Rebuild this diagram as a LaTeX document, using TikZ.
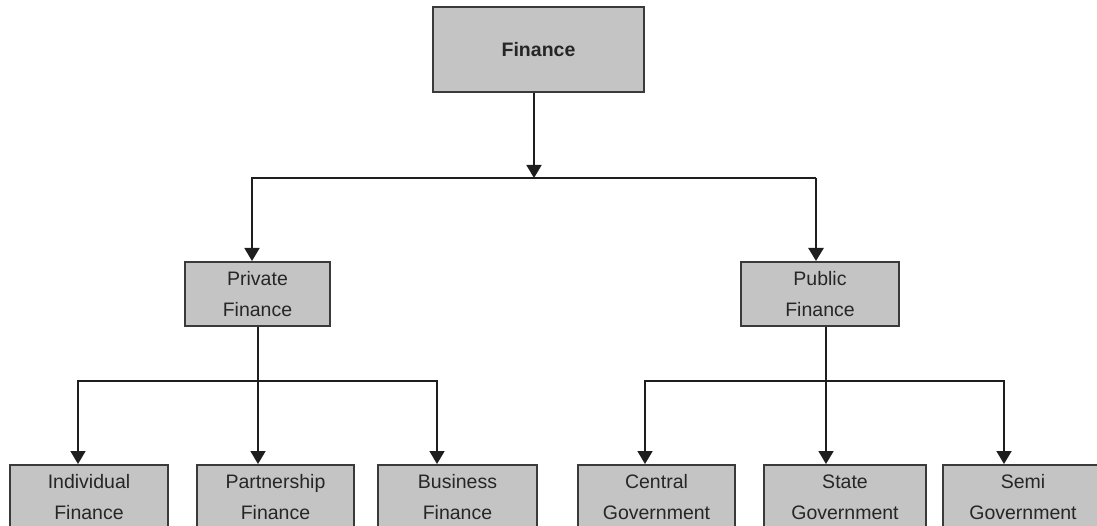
\documentclass[tikz,border=0pt]{standalone}
\usepackage{fontspec}
\setmainfont{Liberation Sans}
\usetikzlibrary{arrows.meta}
\definecolor{boxfill}{HTML}{C4C4C4}
\definecolor{boxline}{HTML}{3A3A3A}
\definecolor{linec}{HTML}{1E1E1E}
\begin{document}
\begin{tikzpicture}[x=1pt,y=-1pt,
  box/.style={draw=boxline,line width=2pt,fill=boxfill,inner sep=0pt,
    font=\fontsize{19.5}{31}\selectfont,align=center,text=black!85},
  conn/.style={draw=linec,line width=1.8pt},
  arr/.style={conn,-{Triangle[width=15pt,length=13pt]}}]
\useasboundingbox (0,0) rectangle (1097,526);
\clip (0,0) rectangle (1097,526);

% boxes
\node[box,font=\fontsize{19.5}{31}\selectfont\bfseries,minimum width=211pt,minimum height=85pt] (fin) at (538.5,49.5) {Finance};
\node[box,minimum width=145pt,minimum height=64pt] (priv) at (257.5,294) {Private\\Finance};
\node[box,minimum width=158pt,minimum height=64pt] (pub) at (820,294) {Public\\Finance};

\node[box,minimum width=158pt,minimum height=64pt] (ind) at (89,497) {Individual\\Finance};
\node[box,minimum width=157pt,minimum height=64pt] (par) at (275.5,497) {Partnership\\Finance};
\node[box,minimum width=159pt,minimum height=64pt] (bus) at (457.5,497) {Business\\Finance};
\node[box,minimum width=157pt,minimum height=64pt] (cen) at (656.5,497) {Central\\Government};
\node[box,minimum width=162pt,minimum height=64pt] (sta) at (845,497) {State\\Government};
\node[box,minimum width=160pt,minimum height=64pt] (sem) at (1023,497) {Semi\\Government};

% junctions
\coordinate (j0) at (534,178);
\coordinate (j0a) at (252,178);
\coordinate (j0b) at (816,178);
\coordinate (p0) at (258,381);
\coordinate (pa) at (78,381);
\coordinate (pc) at (437,381);
\coordinate (q0) at (826,381);
\coordinate (qa) at (645,381);
\coordinate (qc) at (1004,381);

% connectors
\draw[arr] (fin.south -| j0) -- (j0);
\draw[arr] (j0) -- (j0a) -- (j0a |- priv.north);
\draw[conn] (j0) -- (j0b);
\draw[arr,line width=2.6pt] (j0b) -- (j0b |- pub.north);

\draw[conn] (priv.south -| p0) -- (p0);
\draw[arr] (p0) -- (pa) -- (pa |- ind.north);
\draw[arr] (p0) -- (p0 |- par.north);
\draw[arr] (p0) -- (pc) -- (pc |- bus.north);

\draw[conn] (pub.south -| q0) -- (q0);
\draw[arr] (q0) -- (qa) -- (qa |- cen.north);
\draw[arr] (q0 |- pub.south) -- (q0 |- sta.north);
\draw[arr] (q0) -- (qc) -- (qc |- sem.north);
\end{tikzpicture}
\end{document}
